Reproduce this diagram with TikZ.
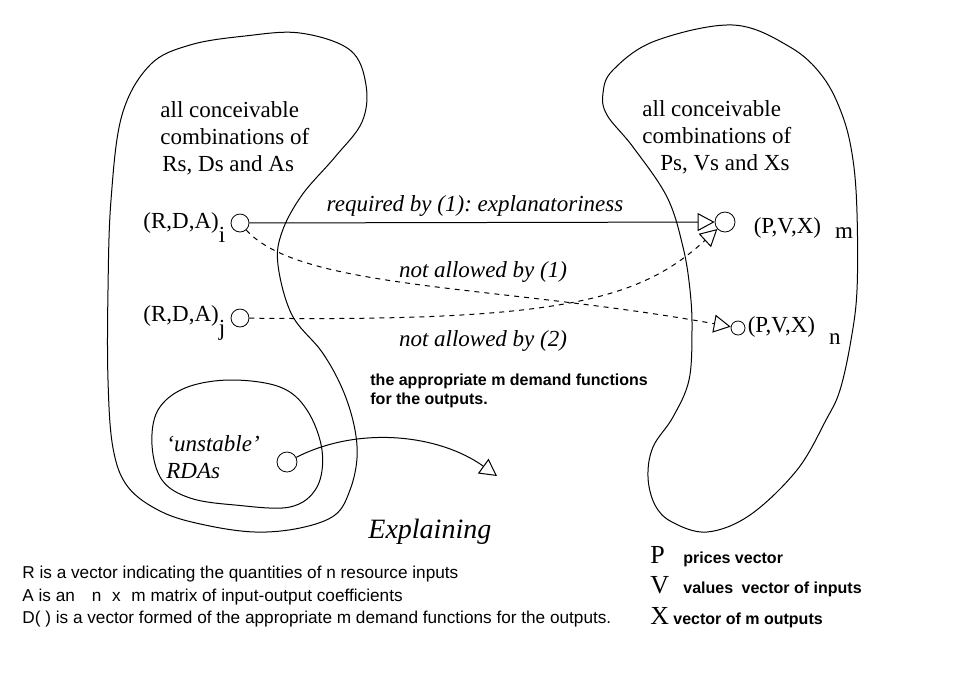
\documentclass[tikz,border=0pt]{standalone}
\usepackage{fontspec}
\setmainfont{Liberation Serif}
\setsansfont{Liberation Sans}
\usetikzlibrary{arrows.meta,positioning}
\frenchspacing
\tikzset{
region/.style={draw,line width=.5pt,smooth cycle,tension=.6},
dot/.style={draw,circle,inner sep=0pt,minimum size=9pt},
heading/.style={font=\fontsize{11.5}{13.5}\selectfont,align=left,inner sep=0pt},
rule/.style={font=\itshape\fontsize{11.5}{13.5}\selectfont,align=left,inner sep=0pt},
note/.style={font=\sffamily\bfseries\fontsize{8}{9.5}\selectfont,align=left,inner sep=0pt},
footnote/.style={font=\sffamily\fontsize{8.6}{11}\selectfont,inner sep=0pt},
sym/.style={font=\fontsize{13}{15}\selectfont,inner sep=0pt},
flow/.style={-{Triangle[open,length=8.5pt,width=9pt]},line width=.5pt},
hint/.style={dash pattern=on 2.5pt off 2.5pt}
}
\begin{document}
\begin{tikzpicture}[x=.5pt,y=-.5pt]
\useasboundingbox (0,0) rectangle (953,676);
% regions
\draw[region] plot coordinates {(300,33) (350,50) (366,85) (362,122) (335,157) (302,195) (282,232) (278,265) (292,315) (322,352) (342,388) (354,425) (357,458) (350,490) (335,515) (300,528) (255,532) (205,525) (162,512) (128,487) (113,448) (108,380) (108,290) (111,200) (122,115) (150,65) (190,45) (245,36)};
\draw[region] plot coordinates {(733,25) (790,47) (823,77) (843,117) (853,160) (857,213) (857,290) (851,340) (840,390) (826,420) (797,470) (750,515) (707,532) (672,522) (655,505) (648,477) (653,447) (673,417) (689,380) (692,330) (690,290) (683,247) (667,197) (633,147) (607,115) (603,93) (613,70) (655,41)};
\draw[region] plot coordinates {(230,380) (280,387) (307,410) (322,450) (317,487) (290,507) (235,505) (190,498) (162,480) (152,445) (158,410) (185,388)};
% headings
\node[heading,anchor=north west] (rda) at (160,101) {all conceivable\\combinations of\\\hspace*{1pt}Rs, Ds and As};
\node[heading,anchor=north west] (pvx) at (642,100) {all conceivable\\combinations of\\\hspace*{9pt}Ps, Vs and Xs};
% points
\node[dot] (ci) at (240,223) {};
\node[dot] (cj) at (240,318) {};
\node[dot,minimum size=10pt] (cm) at (725,222) {};
\node[dot,minimum size=7pt] (cn) at (738,328) {};
\node[dot,minimum size=10pt] (cu) at (287,462) {};
\coordinate (ue) at (497,476);
\node[heading,left=2.5pt of ci,yshift=-2.5pt] (li) {(R,D,A)\raisebox{-7pt}{i}};
\node[heading,left=2.5pt of cj,yshift=-2.5pt] (lj) {(R,D,A)\raisebox{-7pt}{j}};
\node[heading,right=9pt of cm,yshift=-3pt] (lm) {(P,V,X)\hspace{7pt}\raisebox{-2.5pt}{m}};
\node[heading,right=1pt of cn,yshift=-1.5pt] (ln) {(P,V,X)\hspace{7pt}\raisebox{-6pt}{n}};
\node[rule,anchor=north west] (lu) at (166,435) {{`}unstable'\\RDAs};
% links
\draw[flow] (ci) -- node[rule,above=3pt,pos=.485] (req) {required by (1): explanatoriness} (cm);
\draw[flow,hint] (cj) .. controls (560,322) and (640,300) .. (cm);
\draw[flow,hint] (ci) .. controls (300,290) and (500,285) .. (cn);
\draw[flow] (cu) .. controls (360,425) and (440,435) .. (ue);
\node[rule] (na1) at (483,272) {not allowed by (1)};
\node[rule] (na2) at (483,341) {not allowed by (2)};
\node[note,anchor=north west] (dem) at (370,373) {the appropriate m demand functions\\for the outputs.};
\node[font=\itshape\fontsize{14}{16}\selectfont,inner sep=0pt,anchor=base west] (expl) at (368,538) {Explaining};
% definitions
\node[footnote,anchor=base west] (defr) at (22,578) {R is a vector indicating the quantities of n resource inputs};
\node[footnote,anchor=base west] (defa) at (22,601) {A is an\hspace{6pt} n\hspace{3pt} x\hspace{3pt} m matrix of input-output coefficients};
\node[footnote,anchor=base west] (defd) at (22,623) {D( ) is a vector formed of the appropriate m demand functions for the outputs.};
\node[sym,anchor=base west] (kp) at (650,563) {P};
\node[sym,anchor=base west] (kv) at (650,593) {V};
\node[sym,anchor=base west] (kx) at (650,624) {X};
\node[note,anchor=base west] (tp) at (683,563) {prices vector};
\node[note,anchor=base west] (tv) at (683,593) {values\hspace{2pt} vector of inputs};
\node[note,anchor=base west] (tx) at (673,624) {vector of m outputs};
\end{tikzpicture}
\end{document}
